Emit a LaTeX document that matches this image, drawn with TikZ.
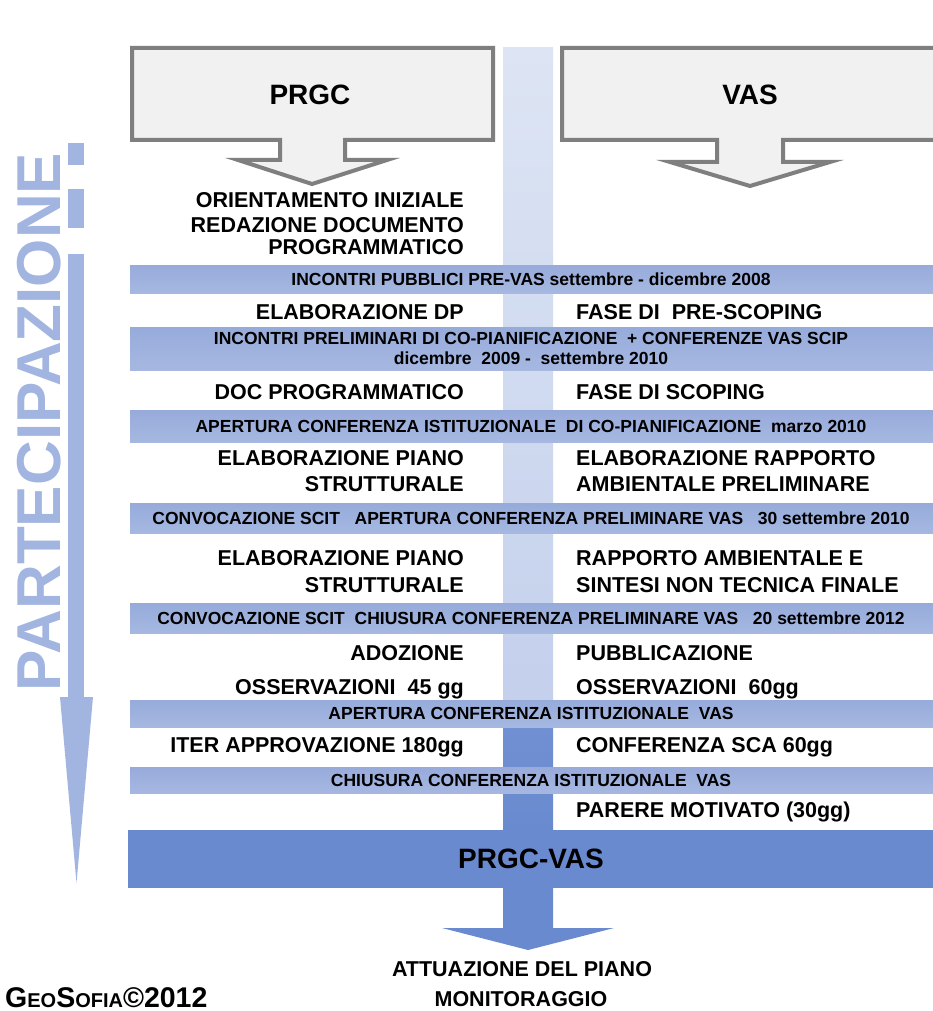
\documentclass[tikz,border=0pt]{standalone}
\usepackage{fontspec}
\setmainfont{Liberation Sans}
\definecolor{bandblue}{HTML}{9EB1DE}
\definecolor{bandtop}{HTML}{97ABDB}
\definecolor{bandbot}{HTML}{A6B8E1}
\definecolor{coltop}{HTML}{DDE5F4}
\definecolor{colmid}{HTML}{C4D0EC}
\definecolor{coldark}{HTML}{7190D3}
\definecolor{finalblue}{HTML}{6A8ACF}
\definecolor{partblue}{HTML}{A2B5E0}
\definecolor{boxfill}{HTML}{F1F1F1}
\definecolor{boxline}{HTML}{7F7F7F}
\begin{document}
\begin{tikzpicture}[x=1pt,y=-1pt,
  body/.style={font=\fontsize{21.5}{24}\selectfont\bfseries, inner sep=0pt, text=black},
  lt/.style={body, anchor=base east},
  rt/.style={body, anchor=base west},
  bandtxt/.style={font=\fontsize{17.5}{20}\selectfont\bfseries, inner sep=0pt, anchor=base, text=black},
  title/.style={font=\fontsize{28}{30}\selectfont\bfseries, inner sep=0pt, anchor=base, text=black},
  bandrect/.style={top color=bandtop, bottom color=bandbot, draw=none},
  callout/.style={fill=boxfill, draw=boxline, line width=4pt, line join=miter}]
\useasboundingbox (0,0) rectangle (933,1011);
\fill[white] (0,0) rectangle (933,1011);
\clip (0,0) rectangle (933,1011);

% central column
\shade[top color=coltop, bottom color=colmid] (503,48) rectangle (553,702);
\shade[top color=coldark, bottom color=finalblue] (503,725) rectangle (553,832);

% callouts
\path[callout] (132,48) -- (493,48) -- (493,140) -- (345,140) -- (345,160) -- (387,160)
  -- (312,184) -- (238,160) -- (280,160) -- (280,140) -- (132,140) -- cycle;
\path[callout] (562,48) -- (950,48) -- (950,140) -- (783,140) -- (783,162) -- (830,162)
  -- (750,186) -- (670,162) -- (717,162) -- (717,140) -- (562,140) -- cycle;
\node[title] (prgc) at (310,105) {PRGC};
\node[title] (vas) at (750,105) {VAS};

% participation arrow
\fill[partblue] (68,143) rectangle (84,165);
\fill[partblue] (68,189) rectangle (84,228);
\fill[partblue] (68,254) rectangle (84,698);
\fill[partblue] (60,697) -- (93,697) -- (76.5,883) -- cycle;
\node[font=\fontsize{62}{62}\selectfont\bfseries, text=partblue, inner sep=0pt, rotate=90, anchor=base] (part) at (60,422) {PARTECIPAZIONE};

% top-left text
\node[lt] (o1) at (464,207.7) {ORIENTAMENTO INIZIALE};
\node[lt] (o2) at (464,232.7) {REDAZIONE DOCUMENTO};
\node[lt] (o3) at (464,254.7) {PROGRAMMATICO};

% band 1
\path[bandrect] (130,265) rectangle (933,293);
\node[bandtxt] (b1) at (531,285.3) {INCONTRI PUBBLICI PRE-VAS settembre - dicembre 2008};

\node[lt] (l1) at (464,319.7) {ELABORAZIONE DP};
\node[rt] (r1) at (576,319.7) {FASE DI\ \ PRE-SCOPING};

% band 2
\path[bandrect] (130,327) rectangle (933,370);
\node[bandtxt] (b2a) at (531,344.3) {INCONTRI PRELIMINARI DI CO-PIANIFICAZIONE\ \ + CONFERENZE VAS SCIP};
\node[bandtxt] (b2b) at (531,364.3) {dicembre\ \ 2009 -\ \ settembre 2010};

\node[lt] (l2) at (464,399.7) {DOC PROGRAMMATICO};
\node[rt] (r2) at (576,399.7) {FASE DI SCOPING};

% band 3
\path[bandrect] (130,410) rectangle (933,442);
\node[bandtxt] (b3) at (531,432.3) {APERTURA CONFERENZA ISTITUZIONALE\ \ DI CO-PIANIFICAZIONE\ \ marzo 2010};

\node[lt] (l3a) at (464,465.7) {ELABORAZIONE PIANO};
\node[lt] (l3b) at (464,491.7) {STRUTTURALE};
\node[rt] (r3a) at (576,465.7) {ELABORAZIONE RAPPORTO};
\node[rt] (r3b) at (576,491.7) {AMBIENTALE PRELIMINARE};

% band 4
\path[bandrect] (130,503) rectangle (933,533);
\node[bandtxt] (b4) at (531,524.3) {CONVOCAZIONE SCIT\ \ \ APERTURA CONFERENZA PRELIMINARE VAS\ \ \ 30 settembre 2010};

\node[lt] (l4a) at (464,565.7) {ELABORAZIONE PIANO};
\node[lt] (l4b) at (464,592.7) {STRUTTURALE};
\node[rt] (r4a) at (576,565.7) {RAPPORTO AMBIENTALE E};
\node[rt] (r4b) at (576,592.7) {SINTESI NON TECNICA FINALE};

% band 5
\path[bandrect] (130,603) rectangle (933,633);
\node[bandtxt] (b5) at (531,624.3) {CONVOCAZIONE SCIT\ \ CHIUSURA CONFERENZA PRELIMINARE VAS\ \ \ 20 settembre 2012};

\node[lt] (l5a) at (464,660.7) {ADOZIONE};
\node[rt] (r5a) at (576,660.7) {PUBBLICAZIONE};
\node[lt] (l5b) at (464,694.7) {OSSERVAZIONI\ \ 45 gg};
\node[rt] (r5b) at (576,694.7) {OSSERVAZIONI\ \ 60gg};

% band 6
\path[bandrect] (130,700) rectangle (933,727);
\node[bandtxt] (b6) at (531,719.3) {APERTURA CONFERENZA ISTITUZIONALE\ \ VAS};

\node[lt] (l6) at (464,752.7) {ITER APPROVAZIONE 180gg};
\node[rt] (r6) at (576,752.7) {CONFERENZA SCA 60gg};

% band 7
\path[bandrect] (130,767) rectangle (933,793);
\node[bandtxt] (b7) at (531,786.3) {CHIUSURA CONFERENZA ISTITUZIONALE\ \ VAS};

\node[rt] (r7) at (576,817.7) {PARERE MOTIVATO (30gg)};

% final band and arrow
\fill[finalblue] (128,830) rectangle (933,888);
\fill[finalblue] (503,886) -- (553,886) -- (553,928) -- (614,928) -- (528,950) -- (442,928) -- (503,928) -- cycle;
\node[title] (final) at (531,868) {PRGC-VAS};

\node[body, anchor=base] (att) at (522,976.5) {ATTUAZIONE DEL PIANO};
\node[body, anchor=base] (mon) at (521,1006) {MONITORAGGIO};

% signature
\node[inner sep=0pt, anchor=base west, font=\bfseries] (geo) at (5,1007)
  {\fontsize{28.5}{28}\selectfont G\fontsize{20}{20}\selectfont EO\fontsize{28.5}{28}\selectfont S\fontsize{20}{20}\selectfont OFIA\fontsize{28.5}{28}\selectfont ©2012};
\end{tikzpicture}
\end{document}
